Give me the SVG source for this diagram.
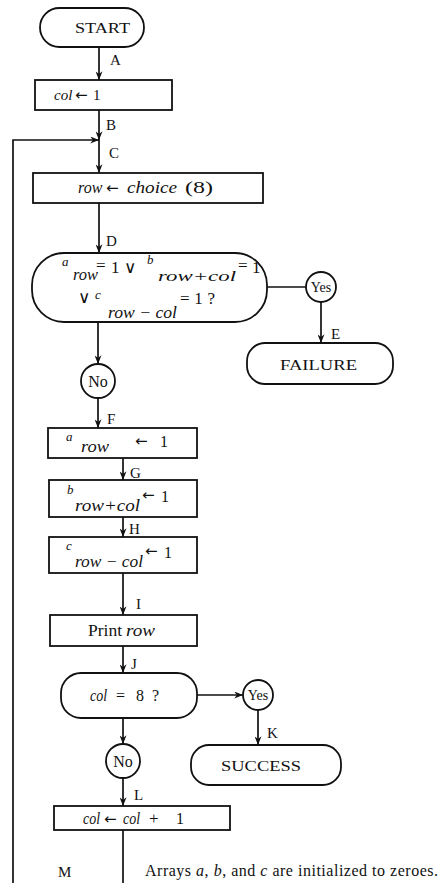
<svg xmlns="http://www.w3.org/2000/svg" width="441" height="883" viewBox="0 0 441 883">
<style>
  .shape { fill: #fff; stroke: #111; stroke-width: 1.8; }
  .line { fill: none; stroke: #111; stroke-width: 1.7; }
  .t { font-family: "Liberation Serif", "Times New Roman", serif; fill: #111; font-size: 16px; }
  .i { font-style: italic; }
  .c { text-anchor: middle; }
  .lbl { font-family: "Liberation Serif", "Times New Roman", serif; fill: #111; font-size: 15px; }
  .sm { font-size: 13px; }
  .ar { font-family: "DejaVu Sans", sans-serif; font-size: 15px; fill: #111; }
</style>
<defs>
  <marker id="ah" viewBox="0 0 10 8" refX="10" refY="4" markerWidth="9" markerHeight="7" orient="auto" markerUnits="userSpaceOnUse">
    <path d="M0,0 L10,4 L0,8 L3,4 Z" fill="#111"/>
  </marker>
</defs>
<rect width="441" height="883" fill="#fff"/>

<g id="connectors">
  <line class="line" x1="99" y1="47" x2="99" y2="80" marker-end="url(#ah)"/>
  <line class="line" x1="99" y1="110" x2="99" y2="140" marker-end="url(#ah)"/>
  <polyline class="line" points="13,883 13,140 99,140" marker-end="url(#ah)"/>
  <line class="line" x1="99" y1="140" x2="99" y2="173" marker-end="url(#ah)"/>
  <line class="line" x1="99" y1="203" x2="99" y2="253" marker-end="url(#ah)"/>
  <line class="line" x1="267" y1="287" x2="306" y2="287"/>
  <line class="line" x1="321" y1="302" x2="321" y2="343" marker-end="url(#ah)"/>
  <line class="line" x1="98" y1="322" x2="98" y2="364" marker-end="url(#ah)"/>
  <line class="line" x1="98" y1="398" x2="98" y2="428" marker-end="url(#ah)"/>
  <line class="line" x1="123" y1="458" x2="123" y2="480" marker-end="url(#ah)"/>
  <line class="line" x1="123" y1="517" x2="123" y2="537" marker-end="url(#ah)"/>
  <line class="line" x1="123" y1="573" x2="123" y2="615" marker-end="url(#ah)"/>
  <line class="line" x1="123" y1="646" x2="123" y2="673" marker-end="url(#ah)"/>
  <line class="line" x1="197" y1="695" x2="243" y2="695" marker-end="url(#ah)"/>
  <line class="line" x1="258" y1="710" x2="258" y2="745" marker-end="url(#ah)"/>
  <line class="line" x1="123" y1="718" x2="123" y2="744" marker-end="url(#ah)"/>
  <line class="line" x1="123" y1="778" x2="123" y2="806" marker-end="url(#ah)"/>
  <line class="line" x1="123" y1="830" x2="123" y2="883"/>
</g>

<g id="labels">
  <text class="lbl" x="110" y="65">A</text>
  <text class="lbl" x="106" y="130">B</text>
  <text class="lbl" x="109" y="158">C</text>
  <text class="lbl" x="106" y="246">D</text>
  <text class="lbl" x="331" y="339">E</text>
  <text class="lbl" x="107" y="424">F</text>
  <text class="lbl" x="130" y="478">G</text>
  <text class="lbl" x="129" y="534">H</text>
  <text class="lbl" x="136" y="609">I</text>
  <text class="lbl" x="131" y="669">J</text>
  <text class="lbl" x="267" y="738">K</text>
  <text class="lbl" x="134" y="800">L</text>
  <text class="lbl" x="58" y="877">M</text>
</g>

<g id="start">
  <rect class="shape" x="40" y="8" width="104" height="39" rx="19.5"/>
  <text class="t" x="75" y="33" textLength="55" lengthAdjust="spacingAndGlyphs" style="font-size:15px">START</text>
</g>

<g id="init-col">
  <rect class="shape" x="35" y="80" width="137" height="30"/>
  <text class="t i" x="54" y="100" style="font-size:15px">col</text>
  <text class="ar" x="75" y="100">←</text>
  <text class="t" x="93" y="100" style="font-size:15px">1</text>
</g>

<g id="choose-row">
  <rect class="shape" x="33" y="173" width="230" height="30"/>
  <text class="t i" x="78" y="193">row</text>
  <text class="ar" x="106" y="193">←</text>
  <text class="t i" x="127" y="193" textLength="50" lengthAdjust="spacingAndGlyphs">choice</text>
  <text class="t" x="185" y="193" textLength="28" lengthAdjust="spacingAndGlyphs">(8)</text>
</g>

<g id="test-attack">
  <rect class="shape" x="32" y="253" width="235" height="69" rx="32" ry="32"/>
  <text class="t i sm" x="62" y="266">a</text>
  <text class="t i" x="73" y="280" textLength="25" lengthAdjust="spacingAndGlyphs">row</text>
  <text class="t" x="96" y="271" style="font-size:17px">=</text>
  <text class="t" x="111" y="273" style="font-size:17px">1</text>
  <text class="t" x="124" y="273" style="font-size:17px">∨</text>
  <text class="t i sm" x="147" y="264">b</text>
  <text class="t i" x="158" y="281" textLength="78" lengthAdjust="spacingAndGlyphs" style="font-size:15px">row+col</text>
  <text class="t" x="238" y="271" style="font-size:17px">=</text>
  <text class="t" x="252" y="273" style="font-size:17px">1</text>
  <text class="t" x="78" y="303" style="font-size:17px">∨</text>
  <text class="t i sm" x="95" y="299">c</text>
  <text class="t i" x="108" y="318" textLength="69" lengthAdjust="spacingAndGlyphs">row − col</text>
  <text class="t" x="180" y="304" textLength="35" lengthAdjust="spacing" style="font-size:17px">= 1 ?</text>
</g>

<g id="yes-1">
  <circle class="shape" cx="321" cy="287" r="15"/>
  <text class="t c" x="321" y="292" style="font-size:14px">Yes</text>
</g>

<g id="failure">
  <rect class="shape" x="247" y="343" width="146" height="41" rx="18"/>
  <text class="t" x="280" y="370" textLength="77" lengthAdjust="spacingAndGlyphs" style="font-size:15px">FAILURE</text>
</g>

<g id="no-1">
  <circle class="shape" cx="98" cy="381" r="17"/>
  <text class="t c" x="98" y="387" style="font-size:16px">No</text>
</g>

<g id="set-a">
  <rect class="shape" x="48" y="428" width="149" height="30"/>
  <text class="t i sm" x="66" y="441">a</text>
  <text class="t i" x="81" y="452" textLength="28" lengthAdjust="spacingAndGlyphs">row</text>
  <text class="ar" x="135" y="446">←</text>
  <text class="t" x="160" y="447">1</text>
</g>

<g id="set-b">
  <rect class="shape" x="49" y="480" width="148" height="37"/>
  <text class="t i sm" x="67" y="494">b</text>
  <text class="t i" x="75" y="511" textLength="65" lengthAdjust="spacingAndGlyphs">row+col</text>
  <text class="ar" x="142" y="500">←</text>
  <text class="t" x="161" y="502">1</text>
</g>

<g id="set-c">
  <rect class="shape" x="49" y="537" width="148" height="36"/>
  <text class="t i sm" x="66" y="550">c</text>
  <text class="t i" x="75" y="567" textLength="68" lengthAdjust="spacingAndGlyphs">row − col</text>
  <text class="ar" x="145" y="556">←</text>
  <text class="t" x="164" y="558">1</text>
</g>

<g id="print-row">
  <rect class="shape" x="50" y="615" width="147" height="31"/>
  <text class="t" x="88" y="636" textLength="34" lengthAdjust="spacingAndGlyphs">Print</text>
  <text class="t i" x="126" y="636" textLength="29" lengthAdjust="spacingAndGlyphs">row</text>
</g>

<g id="test-col">
  <rect class="shape" x="61" y="673" width="136" height="45" rx="20"/>
  <text class="t i" x="90" y="701" textLength="17" lengthAdjust="spacingAndGlyphs">col</text>
  <text class="t" x="116" y="701">=</text>
  <text class="t" x="136" y="701">8</text>
  <text class="t" x="152" y="701">?</text>
</g>

<g id="yes-2">
  <circle class="shape" cx="258" cy="695" r="15"/>
  <text class="t c" x="258" y="700" style="font-size:14px">Yes</text>
</g>

<g id="success">
  <rect class="shape" x="191" y="745" width="150" height="40" rx="18"/>
  <text class="t" x="221" y="771" textLength="80" lengthAdjust="spacingAndGlyphs" style="font-size:15px">SUCCESS</text>
</g>

<g id="no-2">
  <circle class="shape" cx="123" cy="761" r="17"/>
  <text class="t c" x="123" y="767" style="font-size:16px">No</text>
</g>

<g id="inc-col">
  <rect class="shape" x="54" y="806" width="176" height="24"/>
  <text class="t i" x="83" y="824" textLength="17" lengthAdjust="spacingAndGlyphs">col</text>
  <text class="ar" x="104" y="824">←</text>
  <text class="t i" x="123" y="824" textLength="17" lengthAdjust="spacingAndGlyphs">col</text>
  <text class="t" x="149" y="824" style="font-size:17px">+</text>
  <text class="t" x="176" y="824">1</text>
</g>

<g id="note">
  <text class="t" x="145" y="876" textLength="293" lengthAdjust="spacing">Arrays <tspan class="i">a</tspan>, <tspan class="i">b</tspan>, and <tspan class="i">c</tspan> are initialized to zeroes.</text>
</g>
</svg>
